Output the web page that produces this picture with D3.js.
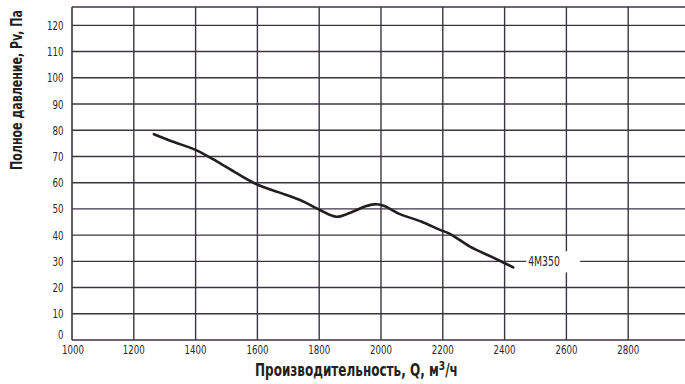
<!DOCTYPE html>
<html><head><meta charset="utf-8">
<script src="https://cdn.jsdelivr.net/npm/d3@7"></script>
<style>body{margin:0;background:#fff}svg{display:block}</style>
</head><body><svg id="c" width="685" height="384"></svg>
<script>
const xTicks = [1000,1200,1400,1600,1800,2000,2200,2400,2600,2800];
const yTicks = [0,10,20,30,40,50,60,70,80,90,100,110,120];
const flowQ = [1265,1330,1400,1470,1533,1603,1670,1738,1802,1856,1910,1950,1985,2013,2061,2130,2191,2223,2288,2360,2428];
const pressurePv = [78.5,75.5,72.5,68,63.6,59.1,56.3,53.4,49.6,47.0,49.0,51.0,51.8,51.0,48.0,45.2,42.0,40.5,35.6,31.6,27.7];
const seriesName = "4M350";
const yTitle = "Полное давление, Pv, Па";

const svg = d3.select("#c");
const x = d3.scaleLinear().domain([1000,3000]).range([72,690]);
const y = d3.scaleLinear().domain([0,127]).range([340,7]);
const font = "'DejaVu Sans Condensed','DejaVu Sans',sans-serif";
const grid = "#3b3540";
const txt = "#2a2629";
const SX = 0.74;

const g = svg.append("g");
// horizontal grid
g.selectAll("line.h").data(yTicks.filter(d=>d>0)).enter().append("line")
  .attr("x1",72).attr("x2",685).attr("y1",d=>y(d)).attr("y2",d=>y(d))
  .attr("stroke",grid).attr("stroke-width",1.4);
g.append("line").attr("x1",72).attr("x2",685).attr("y1",y(127)).attr("y2",y(127)).attr("stroke",grid).attr("stroke-width",1.4);
// vertical grid
g.selectAll("line.v").data(xTicks.filter(d=>d>1000)).enter().append("line")
  .attr("x1",d=>x(d)).attr("x2",d=>x(d)).attr("y1",y(0)).attr("y2",y(127))
  .attr("stroke",grid).attr("stroke-width",1.4);
// axes lines
g.append("line").attr("x1",72).attr("x2",72).attr("y1",y(0)).attr("y2",y(127)).attr("stroke",grid).attr("stroke-width",1.6);
g.append("line").attr("x1",72).attr("x2",685).attr("y1",y(0)).attr("y2",y(0)).attr("stroke",grid).attr("stroke-width",1.6);

// y tick labels
g.selectAll("g.yl").data(yTicks).enter().append("g")
  .attr("transform",d=>`translate(63.5,${d===0?y(0)-1.5:y(d)+4.5}) scale(${SX},1)`)
  .append("text").attr("text-anchor","end").attr("font-family",font).attr("font-size",13)
  .attr("fill",txt).text(d=>d);
// x tick labels
g.selectAll("g.xl").data(xTicks).enter().append("g")
  .attr("transform",d=>`translate(${d===1000?x(d)+1:x(d)},354) scale(${SX},1)`)
  .append("text").attr("text-anchor","middle").attr("font-family",font).attr("font-size",13)
  .attr("fill",txt).text(d=>d);

// curve
const line = d3.line().x((d,i)=>x(flowQ[i])).y(d=>y(d)).curve(d3.curveCatmullRom.alpha(0.5));
g.append("path").attr("d",line(pressurePv)).attr("fill","none")
  .attr("stroke","#231f20").attr("stroke-width",2.6).attr("stroke-linecap","round");

// series label
const ly = y(30);
g.append("rect").attr("x",x(2470)).attr("y",ly-10).attr("width",54).attr("height",21).attr("fill","#fff");
g.append("g").attr("transform",`translate(544,${ly+5}) scale(${SX},1)`)
  .append("text").attr("text-anchor","middle")
  .attr("font-family",font).attr("font-size",14).attr("fill",txt).text(seriesName);

// titles
const yg = svg.append("g");
const yt = yg.append("text").attr("text-anchor","middle")
  .attr("font-family",font).attr("font-size",16).attr("font-weight","bold").attr("fill","#231f20")
  .text(yTitle);
const ys = 160 / yt.node().getComputedTextLength();
yg.attr("transform",`translate(22,90) rotate(-90) scale(${ys},1)`);

const xg = svg.append("g");
const xt = xg.append("text").attr("text-anchor","start")
  .attr("font-family",font).attr("font-size",17).attr("font-weight","bold").attr("fill","#231f20");
xt.append("tspan").text("Производительность, Q, м");
xt.append("tspan").attr("dy",-6).attr("font-size",13).text("3");
xt.append("tspan").attr("dy",6).text("/ч");
const xw = xt.node().getBBox().width;
xg.attr("transform",`translate(255,376) scale(${203/xw},1)`);
</script></body></html>
